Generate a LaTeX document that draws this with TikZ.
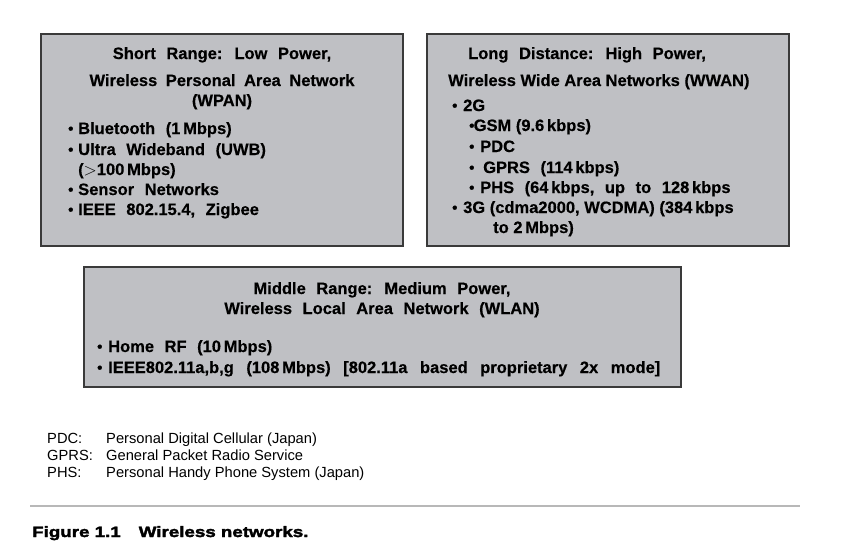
\documentclass[tikz,border=0pt]{standalone}
\usepackage{fontspec}
\setmainfont{Liberation Sans}
% box text face, a touch heavier than plain bold
\newfontfamily\boxfont{Liberation Sans}[BoldFeatures={FakeBold=0.4}]
\newfontfamily\capfont{Liberation Sans}[FakeStretch=1.25,FakeBold=2.5]
\definecolor{panelfill}{HTML}{BFC0C4}
\definecolor{panelline}{HTML}{3A3A3A}
\definecolor{rulegray}{HTML}{B8B8B8}
\newcommand\bul{\raisebox{0.4pt}{\scalebox{0.9}{\textbullet}}}
\newcommand\lead[1]{\makebox[#1][l]{\bul}}
% widened interword space
\newcommand\gapw[1]{\spaceskip#1em\relax}
\tikzset{
  panel/.style={draw=panelline, fill=panelfill, line width=1.4pt},
  li/.style={inner sep=0pt, anchor=base west,
    font=\boxfont\bfseries\fontsize{16.5}{19}\selectfont},
  gap/.style={execute at begin node={\gapw{#1}}},
  wl/.style={li, gap=#1},
  wl/.default=0.64,
  tl/.style={wl=#1, anchor=base},
  tl/.default=0.64,
  note/.style={inner sep=0pt, anchor=base west, font=\fontsize{14.7}{17}\selectfont},
  figcap/.style={inner sep=0pt, anchor=base west, font=\capfont\bfseries\fontsize{15}{17}\selectfont},
  rulerline/.style={draw=rulegray, line width=2.2pt},
}
\begin{document}
\begin{tikzpicture}[x=1pt, y=-1pt]
\useasboundingbox (0,0) rectangle (867,558);

% panels
\draw[panel] (41,34) rectangle (403,246);
\draw[panel] (427,34) rectangle (789,246);
\draw[panel] (84,267) rectangle (681,387);

% short range
\node[tl] (t1a) at (222,59) {Short Range: Low Power,};
\node[tl=0.52] (t1b) at (222,86) {Wireless Personal Area Network};
\node[tl] (t1c) at (222,106) {(WPAN)};
\node[wl] (l1a) at (68,134) {\lead{10pt}Bluetooth (1\,Mbps)};
\node[wl] (l1b) at (68,155) {\lead{10pt}Ultra Wideband (UWB)};
\node[wl] (l1c) at (78,175) {($>$100\,Mbps)};
\node[wl] (l1d) at (68,195) {\lead{10pt}Sensor Networks};
\node[wl] (l1e) at (68,215) {\lead{10pt}IEEE 802.15.4, Zigbee};

% long distance
\node[wl] (t2a) at (468,59) {Long Distance: High Power,};
\node[li] (t2b) at (448,86) {Wireless Wide Area Networks (WWAN)};
\node[li] (l2a) at (452,111) {\lead{11pt}2G};
\node[li] (l2b) at (469,131) {\lead{4.5pt}GSM (9.6\,kbps)};
\node[wl] (l2c) at (469,152) {\lead{11pt}PDC};
\node[wl] (l2d) at (469,173) {\lead{14pt}GPRS (114\,kbps)};
\node[wl] (l2e) at (469,193) {\lead{11pt}PHS (64\,kbps, up to 128\,kbps};
\node[li] (l2f) at (452,213) {\lead{11pt}3G (cdma2000, WCDMA) (384\,kbps};
\node[li] (l2g) at (493,233) {to 2\,Mbps)};

% middle range
\node[tl] (t3a) at (382,294) {Middle Range: Medium Power,};
\node[tl] (t3b) at (382,314) {Wireless Local Area Network (WLAN)};
\node[wl] (l3a) at (97,352) {\lead{11pt}Home RF (10\,Mbps)};
\node[wl=0.76] (l3b) at (97,373) {\lead{11pt}IEEE802.11a,b,g (108\,Mbps) [802.11a based proprietary 2x mode]};

% abbreviations
\node[note] (n1k) at (47,443) {PDC:};
\node[note] (n1v) at (106,443) {Personal Digital Cellular (Japan)};
\node[note] (n2k) at (47,460) {GPRS:};
\node[note] (n2v) at (106,460) {General Packet Radio Service};
\node[note] (n3k) at (47,477) {PHS:};
\node[note] (n3v) at (106,477) {Personal Handy Phone System (Japan)};

% caption
\coordinate (rl) at (30,506);
\coordinate (rr) at (800,506);
\draw[rulerline] (rl) -- (rr);
\node[figcap] (fc) at (32,537) {Figure 1.1\hspace{18pt}Wireless networks.};
\end{tikzpicture}
\end{document}
